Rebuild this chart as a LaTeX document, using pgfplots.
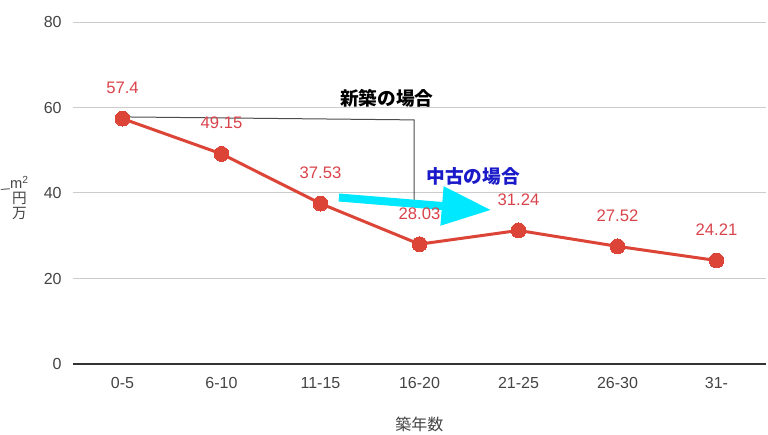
\documentclass[border=0pt]{standalone}
\usepackage{pgfplots}
\pgfplotsset{compat=1.18}
\usepackage{fontspec}
\setmainfont{Liberation Sans}
\newfontfamily\cjk{Noto Sans CJK JP}
\usetikzlibrary{arrows.meta}
\definecolor{linered}{HTML}{DB4437}
\definecolor{lblred}{HTML}{D9434B}
\definecolor{gridgray}{HTML}{CCCCCC}
\definecolor{ticktext}{HTML}{444444}
\definecolor{arrowcyan}{HTML}{00E8FF}
\definecolor{annblue}{HTML}{1A1AC8}
\begin{document}
\begin{tikzpicture}
\begin{axis}[
  scale only axis, width=519.75pt, height=256.5pt,
  at={(0,0)}, anchor=south west,
  xmin=-0.5, xmax=6.5, ymin=0, ymax=80,
  xtick={0,...,6},
  xticklabels={0-5,6-10,11-15,16-20,21-25,26-30,31-},
  ytick={0,20,40,60,80},
  ymajorgrids, grid style={gridgray, line width=0.75pt},
  axis line style={draw=none},
  major tick length=0pt,
  /pgf/number format/assume math mode=true,
  ticklabel style={font=\fontsize{12}{14}\selectfont, text=ticktext},
  yticklabel style={anchor=east, xshift=-5pt},
  xticklabel style={anchor=north, yshift=-6.5pt},
  xlabel={{\cjk 築年数}},
  xlabel style={at={(axis description cs:0.5,0)}, anchor=center, yshift=-45pt, font=\fontsize{12}{14}\selectfont, text=ticktext},
  clip=false,
]
\draw[black!80, line width=0.9pt] (axis cs:-0.5,0) -- (axis cs:6.5,0);
\draw[gray!60!black, line width=0.75pt] (axis cs:0,57.8) -- (axis cs:2.945,57.1) -- (axis cs:2.945,37.9);
\addplot[linered, line width=2.25pt, mark=*, mark size=5.6pt,
  mark options={fill=linered, draw=linered, line width=0pt},
  nodes near coords, point meta=explicit symbolic,
  every node near coord/.style={anchor=center, yshift=23pt, text=lblred, font=\fontsize{12.5}{14}\selectfont}]
coordinates {
 (0,57.4)[57.4]
 (1,49.15)[49.15]
 (2,37.53)[37.53]
 (3,28.03)[28.03]
 (4,31.24)[31.24]
 (5,27.52)[27.52]
 (6,24.21)[24.21]
};
\draw[arrowcyan, line width=6pt, -{Triangle[width=28pt,length=37pt]}] (axis cs:2.186,38.95) -- (axis cs:3.724,36.02);
\node[font=\cjk\bfseries\fontsize{14}{16}\selectfont] at (axis cs:2.671,62.2) {新築の場合};
\node[font=\cjk\bfseries\fontsize{14}{16}\selectfont, text=annblue] at (axis cs:3.541,43.98) {中古の場合};
\end{axis}
\node[align=center, inner sep=0pt, font=\fontsize{11}{12}\selectfont, text=ticktext] at ({(19.5-73)*0.75pt},{(364-198)*0.75pt}) {m\textsuperscript{2}\\[-1pt]{\cjk 円}\\[-1pt]{\cjk 万}};
\node[inner sep=0pt, rotate=-70, font=\fontsize{9}{10}\selectfont, text=ticktext] at ({(5.5-73)*0.75pt},{(364-190)*0.75pt}) {/};
\pgfresetboundingbox
\path (-54.75pt,-53.25pt) rectangle (521.25pt,273pt);
\end{tikzpicture}
\end{document}
